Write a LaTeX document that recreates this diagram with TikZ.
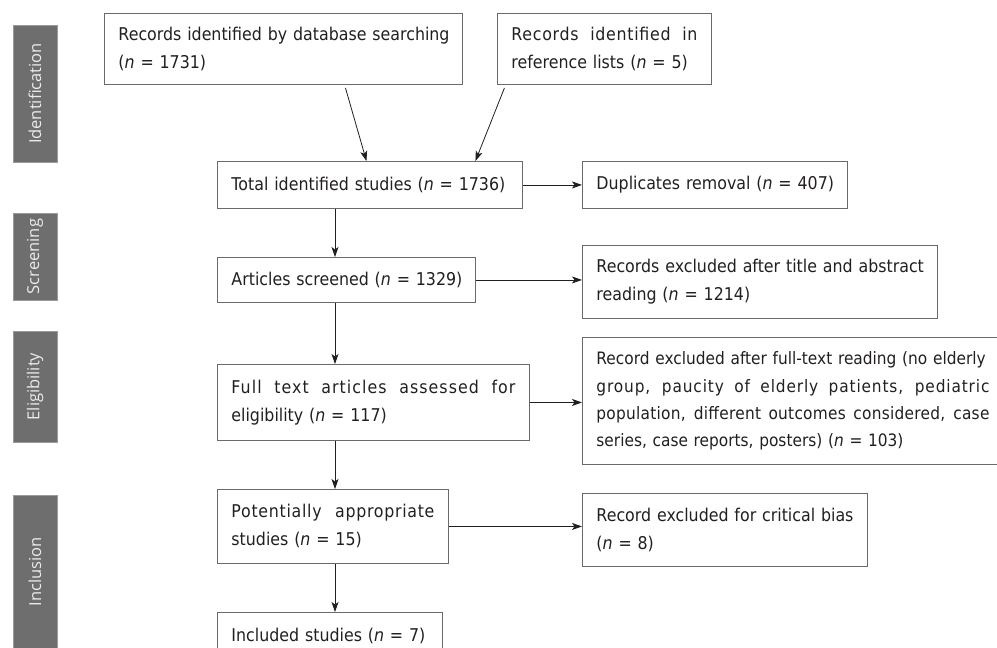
\documentclass[tikz,border=0pt]{standalone}
\usepackage{fontspec}
\setmainfont{DejaVu Sans}[FakeStretch=0.9]
\newfontfamily\sidefont{Open Sans}
\usetikzlibrary{arrows.meta}
\definecolor{txt}{HTML}{231F20}
\definecolor{edge}{HTML}{6A6A6A}
\definecolor{sidefill}{HTML}{6E6E6E}
\definecolor{sideedge}{HTML}{9A9A9A}
\newcommand{\jl}[3][0]{\leavevmode\hbox to #2{\addfontfeature{LetterSpace=#1}\spaceskip=\fontdimen2\font plus 1fil\relax #3}}
\tikzset{
  box/.style={draw=edge, line width=0.9pt, anchor=north west, inner xsep=14pt,
    inner ysep=0pt, align=left, text=txt, font=\fontsize{17.6}{28}\selectfont},
  arr/.style={draw=txt, line width=0.8pt, -{Stealth[length=10pt,width=7pt,inset=2.5pt]}},
  sidebox/.style={fill=sidefill, draw=sideedge, line width=0.8pt, rotate=90,
    minimum height=44pt, inner sep=0pt, text=white!92!black,
    font=\sidefont\fontsize{16.5}{16.5}\selectfont}
}
\begin{document}
\begin{tikzpicture}[x=1pt,y=-1pt]
\useasboundingbox (0,0) rectangle (997,648);
% side labels
\node[sidebox, minimum width=137pt] (sid) at (35,93.5) {Identification};
\node[sidebox, minimum width=87pt] (ssc) at (35,256.5) {Screening};
\node[sidebox, minimum width=111pt] (sel) at (35,386.5) {Eligibility};
\node[sidebox, minimum width=153pt] (sin) at (35,571.5) {Inclusion};
% boxes
\node[box, text width=330pt, minimum height=71pt] (b1) at (104,13)
  {\mbox{Records identified by database searching}\\(\textit{n} = 1731)};
\node[box, text width=186pt, minimum height=71pt] (b2) at (497,13)
  {\jl[4]{186pt}{Records identified in}\\\mbox{reference lists (\textit{n} = 5)}};
\node[box, text width=277pt, minimum height=47pt] (tot) at (217,161)
  {\mbox{Total identified studies (\textit{n} = 1736)}};
\node[box, text width=237pt, minimum height=47pt] (dup) at (582,161)
  {\mbox{Duplicates removal (\textit{n} = 407)}};
\node[box, text width=230pt, minimum height=45pt] (art) at (217,257)
  {\mbox{Articles screened (\textit{n} = 1329)}};
\node[box, text width=327pt, minimum height=73pt] (rex) at (582,245)
  {\mbox{Records excluded after title and abstract}\\\mbox{reading (\textit{n} = 1214)}};
\node[box, text width=284pt, minimum height=76pt] (ft) at (217,364)
  {\jl[6]{284pt}{Full text articles assessed for}\\\mbox{eligibility (\textit{n} = 117)}};
\node[box, text width=393pt, minimum height=127pt, font=\fontsize{17.1}{27.3}\selectfont] (ftx) at (582,337)
  {\mbox{Record excluded after full-text reading (no elderly}\\
   \jl[5]{393pt}{group, paucity of elderly patients, pediatric}\\
   \jl[1.5]{393pt}{population, different outcomes considered, case}\\
   \mbox{series, case reports, posters) (\textit{n} = 103)}};
\node[box, text width=203pt, minimum height=74pt] (pot) at (217,489)
  {\jl[4]{203pt}{Potentially appropriate}\\\mbox{studies (\textit{n} = 15)}};
\node[box, text width=257pt, minimum height=73pt] (crit) at (582,493)
  {\mbox{Record excluded for critical bias}\\(\textit{n} = 8)};
\node[box, text width=197pt, minimum height=48pt] (inc) at (217,612)
  {\mbox{Included studies (\textit{n} = 7)}};
% connectors
\coordinate (spine) at (335,0);
\draw[arr] ([xshift=62pt,yshift=-3pt]b1.south) -- ([xshift=-3.5pt]tot.north);
\draw[arr] ([xshift=-100pt,yshift=-3pt]b2.south) -- ([xshift=105.5pt]tot.north);
\draw[arr] (tot.east) -- (dup.west);
\draw[arr] (tot.south -| spine) -- (art.north -| spine);
\draw[arr] (art.east) -- (art.east -| rex.west);
\draw[arr] (art.south -| spine) -- (ft.north -| spine);
\draw[arr] (ft.east) -- (ft.east -| ftx.west);
\draw[arr] (ft.south -| spine) -- (pot.north -| spine);
\draw[arr] (pot.east) -- (pot.east -| crit.west);
\draw[arr] (pot.south -| spine) -- (inc.north -| spine);
\end{tikzpicture}
\end{document}
